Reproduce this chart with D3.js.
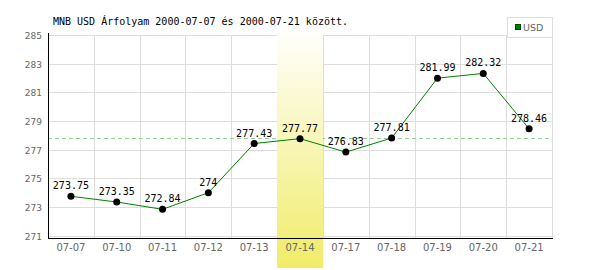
<!DOCTYPE html>
<html>
<head>
<meta charset="utf-8">
<script src="https://cdn.jsdelivr.net/npm/d3@7"></script>
<style>
  body { margin: 0; background: #fff; }
</style>
</head>
<body>
<script>
// USD arfolyam, 2000-07-07 .. 2000-07-21
var days = ["07-07", "07-10", "07-11", "07-12", "07-13", "07-14", "07-17", "07-18", "07-19", "07-20", "07-21"];
var rates = [273.75, 273.35, 272.84, 274, 277.43, 277.77, 276.83, 277.81, 281.99, 282.32, 278.46];
var labels = ["273.75", "273.35", "272.84", "274", "277.43", "277.77", "276.83", "277.81", "281.99", "282.32", "278.46"];
var yTicks = [271, 273, 275, 277, 279, 281, 283, 285];
var highlightDay = "07-14";
var refRate = 277.8;
var title = "MNB USD Árfolyam 2000-07-07 és 2000-07-21 között.";
var seriesName = "USD";

var svg = d3.select("body").append("svg")
	.attr("width", 600)
	.attr("height", 270);

var x = d3.scaleBand().domain(days).range([48, 552]);
var y = d3.scaleLinear().domain([271, 285]).range([235.7, 35]);

var defs = svg.append("defs");
var grad = defs.append("linearGradient")
	.attr("id", "hl")
	.attr("x1", 0).attr("y1", 0).attr("x2", 0).attr("y2", 1);
grad.append("stop").attr("offset", "0%").attr("stop-color", "#ffffff");
grad.append("stop").attr("offset", "100%").attr("stop-color", "#f0ec68");

// grid
svg.append("g").selectAll("line")
	.data(yTicks)
	.enter().append("line")
	.attr("x1", 48).attr("x2", 552)
	.attr("y1", function (d) { return Math.round(y(d)) + 0.5; })
	.attr("y2", function (d) { return Math.round(y(d)) + 0.5; })
	.attr("stroke", "#dddddd");

svg.append("g").selectAll("line")
	.data(days)
	.enter().append("line")
	.attr("x1", function (d) { return Math.round(x(d) + x.bandwidth()) + 0.5; })
	.attr("x2", function (d) { return Math.round(x(d) + x.bandwidth()) + 0.5; })
	.attr("y1", 35).attr("y2", 238)
	.attr("stroke", "#dddddd");

// reference line
svg.append("line")
	.attr("x1", 48).attr("x2", 552)
	.attr("y1", Math.round(y(refRate)) + 0.5)
	.attr("y2", Math.round(y(refRate)) + 0.5)
	.attr("stroke", "#99cc99")
	.attr("stroke-dasharray", "4,3");

// highlighted day
svg.append("rect")
	.attr("x", Math.round(x(highlightDay)))
	.attr("y", 27)
	.attr("width", Math.round(x.bandwidth()))
	.attr("height", 241)
	.attr("fill", "url(#hl)");

// axes
svg.append("line")
	.attr("x1", 48.5).attr("x2", 48.5)
	.attr("y1", 33).attr("y2", 238)
	.attr("stroke", "#000");
svg.append("line")
	.attr("x1", 48).attr("x2", 553)
	.attr("y1", 238.5).attr("y2", 238.5)
	.attr("stroke", "#000");

svg.append("g").selectAll("text")
	.data(yTicks)
	.enter().append("text")
	.attr("x", 42)
	.attr("y", function (d) { return y(d) + 4; })
	.attr("text-anchor", "end")
	.attr("font-family", "DejaVu Sans")
	.attr("font-size", 9)
	.attr("fill", "#666")
	.text(function (d) { return d; });

svg.append("g").selectAll("text")
	.data(days)
	.enter().append("text")
	.attr("x", function (d) { return x(d) + x.bandwidth() / 2; })
	.attr("y", 251)
	.attr("text-anchor", "middle")
	.attr("font-family", "DejaVu Sans")
	.attr("font-size", 10)
	.attr("fill", "#666")
	.text(function (d) { return d; });

// series
var line = d3.line()
	.x(function (d, i) { return x(days[i]) + x.bandwidth() / 2; })
	.y(function (d) { return y(d); });

svg.append("path")
	.attr("d", line(rates))
	.attr("fill", "none")
	.attr("stroke", "#008000")
	.attr("stroke-width", 1);

svg.append("g").selectAll("circle")
	.data(rates)
	.enter().append("circle")
	.attr("cx", function (d, i) { return x(days[i]) + x.bandwidth() / 2; })
	.attr("cy", function (d) { return y(d); })
	.attr("r", 3.5)
	.attr("fill", "#000");

svg.append("g").selectAll("text")
	.data(rates)
	.enter().append("text")
	.attr("x", function (d, i) { return x(days[i]) + x.bandwidth() / 2; })
	.attr("y", function (d) { return y(d) - 7; })
	.attr("text-anchor", "middle")
	.attr("font-family", "DejaVu Sans Mono")
	.attr("font-size", 10)
	.attr("fill", "#000")
	.text(function (d, i) { return labels[i]; });

// title
svg.append("text")
	.attr("x", 53)
	.attr("y", 25)
	.attr("font-family", "DejaVu Sans Mono")
	.attr("font-size", 10)
	.attr("fill", "#000")
	.text(title);

// legend
svg.append("rect")
	.attr("x", 507.5).attr("y", 17.5)
	.attr("width", 45).attr("height", 20)
	.attr("fill", "#fff")
	.attr("stroke", "#dddddd");
svg.append("rect")
	.attr("x", 515.5).attr("y", 24.5)
	.attr("width", 5).attr("height", 5)
	.attr("fill", "#008000")
	.attr("stroke", "#004400");
svg.append("text")
	.attr("x", 523)
	.attr("y", 31)
	.attr("font-family", "DejaVu Sans")
	.attr("font-size", 9.5)
	.attr("fill", "#666")
	.text(seriesName);
</script>
</body>
</html>
